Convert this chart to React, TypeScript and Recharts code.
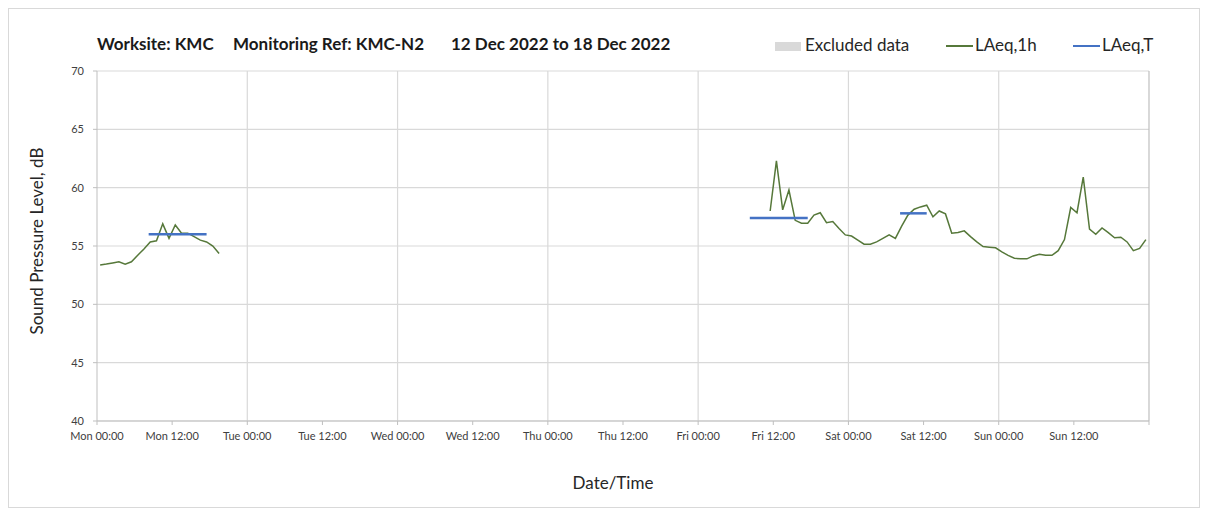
import React from 'react';
import { ComposedChart, Line, XAxis, YAxis, CartesianGrid, ReferenceLine } from 'recharts';

// Hours since Mon 00:00
const xTicks = [0, 12, 24, 36, 48, 60, 72, 84, 96, 108, 120, 132, 144, 156, 168];
const xTickLabels = ['Mon 00:00', 'Mon 12:00', 'Tue 00:00', 'Tue 12:00', 'Wed 00:00', 'Wed 12:00', 'Thu 00:00', 'Thu 12:00', 'Fri 00:00', 'Fri 12:00', 'Sat 00:00', 'Sat 12:00', 'Sun 00:00', 'Sun 12:00', ''];
const dayBoundaries = [24, 48, 72, 96, 120, 144, 168];
const yTicks = [40, 45, 50, 55, 60, 65, 70];

// LAeq,1h — Monday block (hourly, first at 00:30)
const monStartHour = 0.5;
const monLAeq1h = [53.37, 53.45, 53.55, 53.65, 53.45, 53.65, 54.2, 54.75, 55.35, 55.45, 56.9, 55.65, 56.8, 56.1, 56.1, 55.8, 55.5, 55.35, 55.0, 54.35];

// LAeq,1h — Friday to Sunday block (hourly, first at Fri 11:30)
const friStartHour = 107.5;
const friLAeq1h = [
  58.0, 62.3, 58.1, 59.8, 57.2, 56.95, 56.95, 57.65, 57.85, 57.0,
  57.1, 56.5, 55.95, 55.85, 55.5, 55.15, 55.15, 55.35, 55.65, 55.95,
  55.65, 56.7, 57.65, 58.15, 58.35, 58.5, 57.5, 58.0, 57.75, 56.1,
  56.15, 56.3, 55.8, 55.35, 54.95, 54.9, 54.85, 54.5, 54.2, 53.95,
  53.9, 53.9, 54.15, 54.3, 54.2, 54.2, 54.6, 55.55, 58.3, 57.85,
  60.9, 56.45, 56.0, 56.55, 56.15, 55.7, 55.75, 55.35, 54.6, 54.8,
  55.55,
];

// LAeq,T periods
const laeqTStart = [8.25, 104.25, 128.25];
const laeqTEnd = [17.5, 113.5, 132.5];
const laeqTValue = [56.0, 57.4, 57.8];

const monData = monLAeq1h.map((v, i) => ({ h: monStartHour + i, v }));
const friData = friLAeq1h.map((v, i) => ({ h: friStartHour + i, v }));
const tData = laeqTValue.map((v, i) => [
  { h: laeqTStart[i], v },
  { h: laeqTEnd[i], v },
]);

const FONT = 'Lato, "Open Sans", sans-serif';
const GREEN = '#56783a';
const BLUE = '#4472c4';

export default function App() {
  return (
    <div
      style={{
        position: 'relative',
        width: 1190,
        height: 498,
        border: '1px solid #d9d9d9',
        fontFamily: FONT,
        background: '#fff',
      }}
    >
      <div style={{ position: 'absolute', left: 0, top: 24, fontSize: 17, fontWeight: 700, color: '#1a1a1a', whiteSpace: 'pre' }}>
        <span style={{ position: 'absolute', left: 88 }}>Worksite: KMC</span>
        <span style={{ position: 'absolute', left: 224 }}>Monitoring Ref: KMC-N2</span>
        <span style={{ position: 'absolute', left: 442 }}>12 Dec 2022 to 18 Dec 2022</span>
      </div>
      {/* legend */}
      <div style={{ position: 'absolute', left: 766, top: 33, width: 26, height: 9, background: '#d9d9d9' }} />
      <div style={{ position: 'absolute', left: 796, top: 25, fontSize: 17, color: '#262626', whiteSpace: 'pre' }}>Excluded data</div>
      <div style={{ position: 'absolute', left: 937, top: 36, width: 27, height: 2, background: GREEN }} />
      <div style={{ position: 'absolute', left: 966, top: 25, fontSize: 17, color: '#262626', whiteSpace: 'pre' }}>LAeq,1h</div>
      <div style={{ position: 'absolute', left: 1064, top: 36, width: 27, height: 2, background: BLUE }} />
      <div style={{ position: 'absolute', left: 1093, top: 25, fontSize: 17, color: '#262626', whiteSpace: 'pre' }}>LAeq,T</div>
      {/* axis titles */}
      <div
        style={{
          position: 'absolute',
          left: 27,
          top: 232,
          transform: 'translate(-50%, -50%) rotate(-90deg)',
          fontSize: 17,
          color: '#262626',
          whiteSpace: 'pre',
        }}
      >
        Sound Pressure Level, dB
      </div>
      <div
        style={{
          position: 'absolute',
          left: 604,
          top: 473,
          transform: 'translate(-50%, -50%)',
          fontSize: 17,
          color: '#262626',
          whiteSpace: 'pre',
        }}
      >
        Date/Time
      </div>
      <div style={{ position: 'absolute', left: 0, top: 0 }}>
        <ComposedChart width={1190} height={498} margin={{ top: 62, right: 50, bottom: 0, left: 0 }}>
          <CartesianGrid vertical={false} stroke="#d9d9d9" strokeWidth={1.2} />
          {dayBoundaries.map((d) => (
            <ReferenceLine key={d} x={d} stroke={d === 168 ? '#bfbfbf' : '#d9d9d9'} strokeWidth={1.2} ifOverflow="extendDomain" />
          ))}
          <XAxis
            dataKey="h"
            type="number"
            domain={[0, 168]}
            ticks={xTicks}
            tickFormatter={(t) => xTickLabels[xTicks.indexOf(t)] ?? ''}
            height={86}
            interval={0}
            tickSize={4}
            tickMargin={7}
            stroke="#bfbfbf"
            tick={{ fill: '#404040', fontSize: 11, fontFamily: FONT }}
            allowDataOverflow
          />
          <YAxis
            type="number"
            domain={[40, 70]}
            ticks={yTicks}
            width={88}
            tickSize={4}
            tickMargin={9}
            stroke="#bfbfbf"
            tick={{ fill: '#404040', fontSize: 11, fontFamily: FONT }}
            allowDataOverflow
          />
          <Line data={monData} dataKey="v" stroke={GREEN} strokeWidth={1.5} dot={false} isAnimationActive={false} />
          <Line data={friData} dataKey="v" stroke={GREEN} strokeWidth={1.5} dot={false} isAnimationActive={false} />
          {tData.map((d, i) => (
            <Line key={i} data={d} dataKey="v" stroke={BLUE} strokeWidth={2.5} dot={false} isAnimationActive={false} />
          ))}
        </ComposedChart>
      </div>
    </div>
  );
}
